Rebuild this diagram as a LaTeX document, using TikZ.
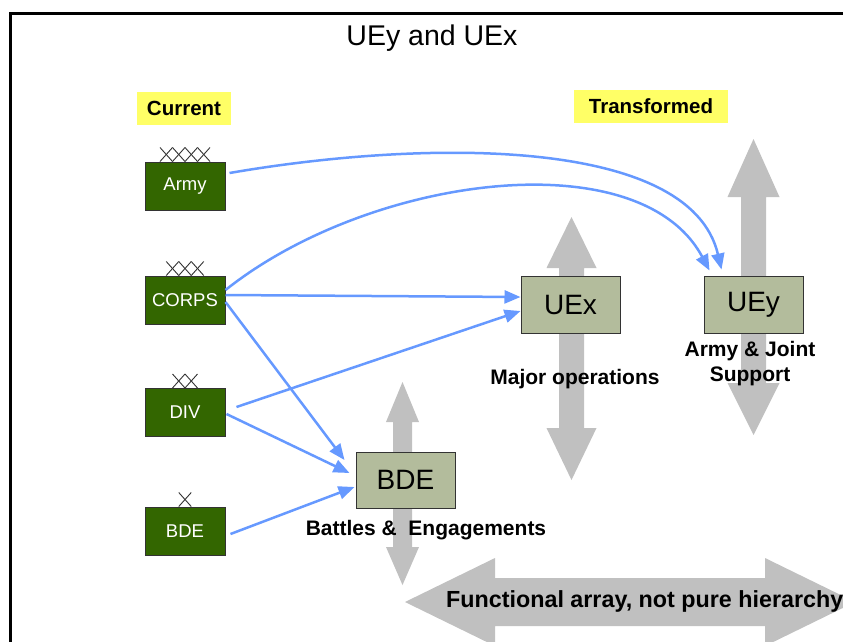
\documentclass[tikz,border=0pt]{standalone}
\usepackage{fontspec}
\setmainfont{Liberation Sans}
\usetikzlibrary{arrows.meta,calc}

\definecolor{unitgreen}{RGB}{51,102,0}
\definecolor{ueolive}{RGB}{179,188,156}
\definecolor{linkblue}{RGB}{102,153,255}
\definecolor{spangray}{RGB}{192,192,192}
\definecolor{tagyellow}{RGB}{255,255,102}

% vertical double-headed block arrow:
% #1 centre x, #2 top tip, #3 top head base, #4 bottom head base, #5 bottom tip,
% #6 half head width, #7 half shaft width
\newcommand{\spanv}[7]{%
  \fill[spangray] (#1,#2) -- ({#1+#6},#3) -- ({#1+#7},#3) -- ({#1+#7},#4)
    -- ({#1+#6},#4) -- (#1,#5) -- ({#1-#6},#4) -- ({#1-#7},#4)
    -- ({#1-#7},#3) -- ({#1-#6},#3) -- cycle;}

% echelon crosses (X, XX, ...) sitting on top of a unit box
\newcommand{\echelonmarks}[2]{%
  \foreach \i in {1,...,#2}{%
    \draw[echelon] ($(#1.north)+({-#2*6.25+(\i-1)*12.5},0)$) -- ++(12.5,-14);
    \draw[echelon] ($(#1.north)+({-#2*6.25+\i*12.5},0)$) -- ++(-12.5,-14);
  }}

\begin{document}
\begin{tikzpicture}[x=1pt,y=-1pt,
  oldunit/.style={draw=black!80, line width=1pt, fill=unitgreen, text=white,
    minimum width=80pt, minimum height=48pt, inner sep=0pt,
    font=\fontsize{18.5}{20}\selectfont},
  newunit/.style={draw=black!80, line width=1pt, fill=ueolive,
    minimum width=99pt, minimum height=57pt, inner sep=0pt,
    font=\fontsize{28}{30}\selectfont},
  tag/.style={fill=tagyellow, inner sep=0pt, minimum height=33pt,
    font=\bfseries\fontsize{20.5}{22}\selectfont},
  caption/.style={font=\bfseries\fontsize{21}{25}\selectfont, align=center, inner sep=0pt},
  link/.style={draw=linkblue, line width=2.5pt, -{Triangle[length=16pt,width=13pt]}},
  echelon/.style={draw=black!80, line width=0.9pt}
]
\clip (0,0) rectangle (843,641);
\fill[white] (0,0) rectangle (843,641);

% outer frame
\draw[line width=3pt] (10,650) -- (10,13) -- (850,13);

% title
\node[font=\fontsize{28.5}{30}\selectfont] (title) at (432,38) {UEy and UEx};

% column headings
\node[tag, minimum width=94pt] (current) at (184,108.5) {Current};
\node[tag, minimum width=154pt] (transformed) at (651,106.5) {Transformed};

% grey block arrows
\spanv{571.5}{217}{268}{428}{480}{25}{12.5}
\spanv{753.5}{139}{197}{383}{435}{26}{12.5}
\spanv{402.5}{382}{422}{547}{585}{16.5}{9.5}
\fill[spangray] (405,602) -- (495,558) -- (495,578) -- (765,578) -- (765,558)
  -- (855,602) -- (765,646) -- (765,626) -- (495,626) -- (495,646) -- cycle;

% current units
\node[oldunit] (army)  at (185,186)   {Army};
\node[oldunit] (corps) at (185,300)   {CORPS};
\node[oldunit] (div)   at (185,412.5) {DIV};
\node[oldunit] (bdeold) at (185,531)  {BDE};
\echelonmarks{army}{4}
\echelonmarks{corps}{3}
\echelonmarks{div}{2}
\echelonmarks{bdeold}{1}

% transformed units
\node[newunit] (uex) at (570.5,304.5) {UEx};
\node[newunit] (uey) at (753.5,304.5) {UEy};
\node[newunit, minimum height=56pt] (bde) at (405.5,480) {BDE};

% captions
\node[caption] (capuex) at (575,379) {Major operations};
\node[caption] (capuey) at (750,363.5) {Army \& Joint\\Support};
\node[caption] (capbde) at (426,530) {Battles \&\ \ Engagements};
\node[font=\bfseries\fontsize{23.3}{25}\selectfont, anchor=west, inner sep=0pt]
  (capspan) at (446,601) {Functional array, not pure hierarchy};

% links from current to transformed units
\draw[link] ($(army.east)+(4,-13)$) .. controls (420,140) and (690,135)
  .. ($(uey.north west)+(18,-6)$);
\draw[link] ($(corps.east)+(0,-10)$) .. controls (370,175) and (640,140)
  .. ($(uey.north west)+(6,-5)$);
\draw[link] ($(corps.east)+(0,-5)$) -- ($(uex.west)+(0,-7.5)$);
\draw[link] ($(corps.east)+(0,2)$) -- ($(bde.west)+(-11,-20)$);
\draw[link] ($(div.east)+(11,-5.5)$) -- ($(uex.west)+(0,6.5)$);
\draw[link] ($(div.east)+(1,1.5)$) -- ($(bde.west)+(-6,-7)$);
\draw[link] ($(bdeold.east)+(5,3)$) -- ($(bde.west)+(-1,7)$);
\end{tikzpicture}
\end{document}
